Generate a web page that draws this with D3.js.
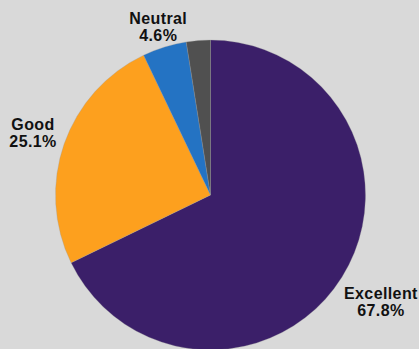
<!DOCTYPE html>
<html><head><meta charset="utf-8">
<script src="https://cdn.jsdelivr.net/npm/d3@7"></script>
<style>
html,body{margin:0;padding:0;background:#d9d9d9;}
svg{display:block;}
text{font-family:"Liberation Sans",Arial,Helvetica,sans-serif;font-weight:bold;fill:#111;}
</style></head>
<body>
<script>
const categories = ["Excellent", "Good", "Neutral", "Other"];
const values = [67.8, 25.1, 4.6, 2.5];
const labels = ["67.8%", "25.1%", "4.6%", ""];
const colors = ["#3b1f69", "#fda01e", "#2473c3", "#505050"];
const labelRadii = [201, 188, 176, 0];

const W = 419, H = 349;
const cx = 210.5, cy = 195, R = 155;

const svg = d3.select("body").append("svg").attr("width", W).attr("height", H);
svg.append("rect").attr("width", W).attr("height", H).attr("fill", "#d9d9d9");

const g = svg.append("g").attr("transform", `translate(${cx},${cy})`);
const data = categories.map((c, i) => ({ cat: c, value: values[i], label: labels[i], color: colors[i], lr: labelRadii[i] }));

const pie = d3.pie().value(d => d.value).sort(null);
const arc = d3.arc().innerRadius(0).outerRadius(R);
const arcs = pie(data);

g.selectAll("path").data(arcs).join("path")
  .attr("d", arc)
  .attr("fill", d => d.data.color)
  .attr("stroke", "#9a9a9a")
  .attr("stroke-width", 0.3);

const lab = g.selectAll("g.lab").data(arcs.filter(d => d.data.label)).join("g").attr("class", "lab")
  .attr("transform", d => {
    const a = (d.startAngle + d.endAngle) / 2;
    return `translate(${Math.sin(a) * d.data.lr},${-Math.cos(a) * d.data.lr})`;
  });
lab.append("text").attr("text-anchor", "middle").attr("y", -3).attr("font-size", 16)
  .style("letter-spacing", "0.4px").text(d => d.data.cat);
lab.append("text").attr("text-anchor", "middle").attr("y", 14).attr("font-size", 16)
  .style("letter-spacing", "0.4px").text(d => d.data.label);
</script>
</body></html>
